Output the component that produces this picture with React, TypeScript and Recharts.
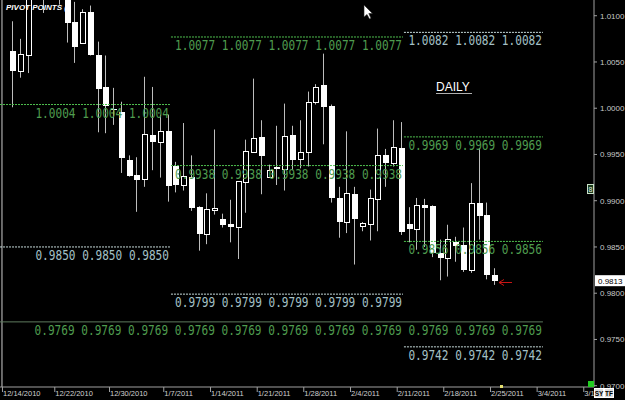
import React from 'react';
import { ComposedChart, Bar, XAxis, YAxis, ReferenceLine } from 'recharts';

// Daily candles (index 0 = first visible day, 6 bars per week incl. Sunday sessions)
const opens = [
  1.0062, 1.0040, 1.0057, 1.0145, 1.0140, 1.0128, 1.0138, 1.0122, 1.0093, 1.0071,
  1.0104, 1.0058, 1.0023, 0.9999, 0.9996, 0.9944, 0.9928, 0.9924, 0.9971, 0.9964,
  0.9975, 0.9937, 0.9917, 0.9926, 0.9893, 0.9864, 0.9890, 0.9880, 0.9875, 0.9872,
  0.9920, 0.9953, 0.9969, 0.9926, 0.9935, 0.9934, 0.9971, 0.9945, 0.9953, 1.0007,
  1.0025, 1.0002, 0.9903, 0.9877, 0.9907, 0.9873, 0.9875, 0.9902, 0.9949, 0.9941,
  0.9957, 0.9875, 0.9869, 0.9895, 0.9894, 0.9844, 0.9838, 0.9855, 0.9852, 0.9825,
  0.9898, 0.9885, 0.9820,
];
const highs = [
  1.0094, 1.0075, 1.0135, 1.0155, 1.0150, 1.0148, 1.0150, 1.0130, 1.0115, 1.0107,
  1.0111, 1.0072, 1.0057, 1.0022, 1.0007, 0.9949, 0.9947, 1.0034, 1.0023, 0.9993,
  0.9993, 0.9942, 0.9984, 0.9949, 0.9894, 0.9908, 0.9977, 0.9886, 0.9901, 0.9921,
  0.9966, 1.0032, 0.9987, 0.9939, 0.9981, 1.0005, 0.9981, 0.9987, 1.0018, 1.0026,
  1.0059, 1.0004, 0.9915, 0.9975, 0.9915, 0.9877, 0.9912, 0.9978, 0.9956, 0.9987,
  0.9985, 0.9893, 0.9903, 0.9902, 0.9895, 0.9858, 0.9874, 0.9861, 0.9871, 0.9919,
  0.9957, 0.9898, 0.9827,
];
const lows = [
  1.0001, 1.0033, 1.0038, 1.0122, 1.0103, 1.0122, 1.0112, 1.0071, 1.0049, 1.0070,
  1.0057, 0.9974, 0.9973, 0.9982, 0.9930, 0.9926, 0.9888, 0.9915, 0.9933, 0.9925,
  0.9899, 0.9909, 0.9911, 0.9889, 0.9846, 0.9853, 0.9885, 0.9871, 0.9855, 0.9837,
  0.9887, 0.9952, 0.9907, 0.9925, 0.9917, 0.9911, 0.9933, 0.9935, 0.9937, 1.0004,
  0.9961, 0.9898, 0.9860, 0.9865, 0.9831, 0.9867, 0.9857, 0.9867, 0.9915, 0.9937,
  0.9863, 0.9855, 0.9847, 0.9850, 0.9839, 0.9814, 0.9818, 0.9834, 0.9823, 0.9822,
  0.9858, 0.9815, 0.9809,
];
const closes = [
  1.0040, 1.0059, 1.0125, 1.0128, 1.0125, 1.0140, 1.0124, 1.0092, 1.0066, 1.0104,
  1.0058, 1.0021, 1.0002, 0.9998, 0.9946, 0.9927, 0.9922, 0.9972, 0.9964, 0.9975,
  0.9916, 0.9917, 0.9927, 0.9892, 0.9864, 0.9891, 0.9892, 0.9874, 0.9872, 0.9921,
  0.9954, 0.9968, 0.9948, 0.9933, 0.9936, 0.9970, 0.9944, 0.9953, 1.0007, 1.0023,
  1.0001, 0.9903, 0.9877, 0.9908, 0.9880, 0.9876, 0.9903, 0.9949, 0.9941, 0.9958,
  0.9866, 0.9869, 0.9895, 0.9892, 0.9843, 0.9838, 0.9859, 0.9851, 0.9825, 0.9898,
  0.9884, 0.9820, 0.9813,
];

// Date axis
const dateTicks = [-1.29, 5.44, 12.48, 19.46, 25.47, 31.48, 37.47, 43.48, 49.49, 55.48, 61.49, 67.49, 73.49];
const dateLabels = ['12/14/2010', '12/22/2010', '12/30/2010', '1/7/2011', '1/14/2011', '1/21/2011', '1/28/2011', '2/4/2011', '2/11/2011', '2/18/2011', '2/25/2011', '3/4/2011', '3/1'];

// Price axis
const priceTicks = [0.97, 0.975, 0.98, 0.985, 0.99, 0.995, 1.0, 1.005, 1.01];
const priceDomain = [0.96986, 1.0117];
const dayDomain = [-1.544, 74.87];

// Pivot point levels (value, from day, to day, style, repeats of label)
const pivotValues = [1.0004, 1.0077, 1.0082, 0.9938, 0.9969, 0.9856, 0.985, 0.9799, 0.9769, 0.9742];
const pivotStart = [-1.54, 20.45, 50.42, 20.45, 50.42, 50.42, -1.54, 20.45, -1.54, 50.42];
const pivotEnd = [20.32, 50.3, 68.3, 50.3, 68.3, 68.3, 20.32, 50.3, 68.3, 68.3];
const pivotStyle = ['green', 'green', 'gray', 'green', 'green', 'green', 'gray', 'gray', 'solid', 'gray'];
const pivotRepeat = [3, 5, 3, 5, 3, 3, 3, 5, 11, 3];

const data = opens.map((o, i) => ({
  i,
  o,
  h: highs[i],
  l: lows[i],
  c: closes[i],
  range: [lows[i], highs[i]],
}));

const lastClose = closes[closes.length - 1];

const Candle = (props: any) => {
  const { x, y, width, height, payload } = props;
  if (!payload || x == null || y == null || height == null) return null;
  const { o, h, l, c } = payload;
  const top = Math.min(y, y + height);
  const span = Math.abs(height);
  const k = span / (h - l);
  const py = (v: number) => top + (h - v) * k;
  const n = Math.round(x + width / 2);
  const wx = n + 0.5;
  const bTop = Math.round(py(Math.max(o, c)));
  const bBot = Math.round(py(Math.min(o, c)));
  const bull = c > o;
  return (
    <g>
      <line x1={wx} x2={wx} y1={py(h)} y2={py(l)} stroke="#bdbdbd" strokeWidth={1} />
      {bull ? (
        <rect x={n - 2 + 0.5} y={bTop + 0.5} width={5} height={Math.max(1, bBot - bTop)} fill="#000" stroke="#ffffff" strokeWidth={1} />
      ) : (
        <rect x={n - 2} y={bTop} width={6} height={Math.max(1, bBot - bTop)} fill="#ffffff" />
      )}
    </g>
  );
};

const PivotLabel = (props: any) => {
  const { viewBox, text, color } = props;
  if (!viewBox) return null;
  const xr = viewBox.x + viewBox.width - 1;
  const yb = viewBox.y + 13;
  return (
    <g transform={`translate(${xr},${yb}) scale(1,1.3)`}>
      <text x={0} y={0} textAnchor="end" fill={color} fontSize={11.1} fontFamily="DejaVu Sans Mono, Liberation Mono, monospace">
        {text}
      </text>
    </g>
  );
};

const PriceTag = (props: any) => {
  const { viewBox, text } = props;
  if (!viewBox) return null;
  const x0 = viewBox.x + viewBox.width + 1;
  const yc = viewBox.y;
  return (
    <g>
      <rect x={x0} y={yc - 6} width={30} height={11} fill="#ffffff" />
      <text x={x0 + 3} y={yc + 3} fill="#000" fontSize={8} fontFamily="Liberation Sans, Arial, sans-serif">{text}</text>
    </g>
  );
};

const DateTick = (props: any) => {
  const { x, y, payload } = props;
  const idx = dateTicks.indexOf(payload.value);
  const label = idx >= 0 ? dateLabels[idx] : '';
  return (
    <g>
      <line x1={x + 0.5} x2={x + 0.5} y1={y} y2={y + 5} stroke="#a0a0a0" />
      <text x={x + 1} y={y + 9} fill="#d0d0d0" fontSize={7.5} fontFamily="Liberation Sans, Arial, sans-serif">{label}</text>
    </g>
  );
};

const styleColor: Record<string, { line: string; text: string; dash: string | undefined }> = {
  green: { line: '#4fc04f', text: '#4f9c4f', dash: '2 1' },
  gray: { line: '#c8dcdc', text: '#a4c0c6', dash: '2 1' },
  solid: { line: '#5e7a5e', text: '#4f9c4f', dash: undefined },
};

export default function App() {
  return (
    <div style={{ position: 'absolute', left: 0, top: 0, width: 625, height: 400, background: '#000', overflow: 'hidden' }}>
      <ComposedChart width={625} height={400} data={data} margin={{ top: 0, right: 0, bottom: 0, left: 0 }}>
        <XAxis
          type="number"
          dataKey="i"
          domain={dayDomain}
          allowDataOverflow
          ticks={dateTicks}
          interval={0}
          height={13}
          tickSize={0}
          tickMargin={0}
          tickLine={false}
          axisLine={{ stroke: '#a0a0a0' }}
          tick={<DateTick />}
        />
        <YAxis
          orientation="right"
          domain={priceDomain}
          allowDataOverflow
          ticks={priceTicks}
          interval={0}
          width={31}
          tickSize={3}
          tickMargin={3}
          tickFormatter={(v: number) => v.toFixed(4)}
          tick={{ fill: '#c8c8c8', fontSize: 8, fontFamily: 'Liberation Sans, Arial, sans-serif' }}
          axisLine={{ stroke: '#a0a0a0' }}
          tickLine={{ stroke: '#a0a0a0' }}
        />
        <ReferenceLine x={dateTicks[0]} stroke="#cfcfcf" strokeWidth={1} />
        {pivotValues.map((v, k) => {
          const st = styleColor[pivotStyle[k]];
          const text = Array(pivotRepeat[k]).fill(v.toFixed(4)).join(' ');
          return (
            <ReferenceLine
              key={'p' + k}
              segment={[{ x: pivotStart[k], y: v }, { x: pivotEnd[k], y: v }]}
              stroke={st.line}
              strokeDasharray={st.dash}
              strokeWidth={1}
              label={<PivotLabel text={text} color={st.text} />}
            />
          );
        })}
        <Bar dataKey="range" barSize={6} shape={<Candle />} isAnimationActive={false} />
        <ReferenceLine y={lastClose} stroke="none" label={<PriceTag text={lastClose.toFixed(4)} />} />
      </ComposedChart>
      <svg width={625} height={400} style={{ position: 'absolute', left: 0, top: 0, pointerEvents: 'none' }}>
        <text x={6} y={10} fill="#ffffff" fontSize={8} fontWeight="bold" fontStyle="italic" fontFamily="Liberation Sans, Arial, sans-serif">PIVOT POINTS (</text>
        <text x={436} y={91} fill="#ffffff" fontSize={12} fontFamily="Liberation Sans, Arial, sans-serif">DAILY</text>
        <line x1={436} x2={472} y1={93.5} y2={93.5} stroke="#b0b0b0" />
        <polygon points="364,5 364,17 367,14.5 369.5,19 371,18.3 368.8,13.5 372.5,13.5" fill="#ffffff" stroke="#222" strokeWidth={0.6} />
        <g stroke="#c81414" strokeWidth={1} fill="none">
          <line x1={499} x2={512} y1={282.5} y2={282.5} />
          <polyline points="504,279.5 499,282.5 504,285.5" />
        </g>
        <rect x={587.5} y={184.5} width={6} height={9} fill="#1c3a1c" stroke="#c8e0c8" />
        <text x={590.5} y={192} textAnchor="middle" fill="#e0f0e0" fontSize={7} fontFamily="Liberation Sans, Arial, sans-serif">8</text>
        <rect x={588} y={381} width={6} height={6} fill="#22cc22" />
        <rect x={500} y={385} width={3} height={3} fill="#e6e070" />
        <rect x={594.5} y={388.5} width={9} height={9} fill="#dcdcdc" stroke="#ffffff" />
        <text x={599} y={396} textAnchor="middle" fill="#000" fontSize={6.5} fontWeight="bold" fontFamily="Liberation Sans, Arial, sans-serif">SY</text>
        <rect x={604.5} y={388.5} width={9} height={9} fill="#dcdcdc" stroke="#ffffff" />
        <text x={609} y={396} textAnchor="middle" fill="#000" fontSize={6.5} fontWeight="bold" fontFamily="Liberation Sans, Arial, sans-serif">TF</text>
      </svg>
    </div>
  );
}
